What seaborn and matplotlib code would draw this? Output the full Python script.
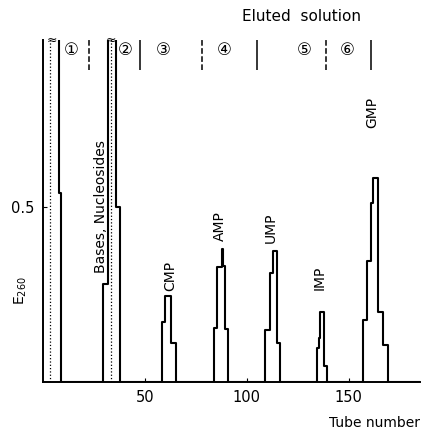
import matplotlib
matplotlib.use("Agg")
import matplotlib.pyplot as plt
import seaborn as sns

# Step histograms: left edges (tube number),
# E260 of each step, and the tube where the peak drops back to baseline.
# 1.5 stands for an off-scale value (clipped at the top of the axis).
P1_EDGES, P1_E260, P1_END = [0, 7.7], [1.5, 0.54], 9.0
BN_EDGES, BN_E260, BN_END = [29.5, 31.8, 36.0], [0.28, 1.5, 0.50], 37.8
CMP_EDGES, CMP_E260, CMP_END = [58.5, 60.1, 62.7], [0.17, 0.245, 0.11], 65.5
AMP_EDGES = [83.8, 85.4, 87.6, 88.4, 89.5]
AMP_E260, AMP_END = [0.153, 0.327, 0.38, 0.33, 0.15], 90.8
UMP_EDGES, UMP_E260, UMP_END = [108.8, 111.3, 112.9, 115.0], [0.147, 0.31, 0.375, 0.11], 116.2
IMP_EDGES, IMP_E260, IMP_END = [134.2, 135.2, 135.9, 137.7], [0.096, 0.125, 0.20, 0.045], 139.4
GMP_EDGES = [157.0, 158.7, 160.8, 161.9, 164.4, 166.8]
GMP_E260, GMP_END = [0.177, 0.344, 0.512, 0.582, 0.20, 0.106], 169.3
TUBE_MAX = 185

# inner (dotted) edges inside the off-scale peaks
INNER_EDGES = [3.4, 33.5]
BREAK_X = [4.5, 33.3]

PEAK_NAMES = ["Bases, Nucleosides", "CMP", "AMP", "UMP", "IMP", "GMP"]
PEAK_NAME_X = [28.3, 62.3, 86.8, 111.8, 135.8, 161.3]
PEAK_NAME_Y = [0.5, 0.303, 0.446, 0.44, 0.297, 0.77]

FRACTIONS = ["①", "②", "③", "④", "⑤", "⑥"]
FRACTION_X = [14, 40.2, 59, 89, 128, 149]
DIVIDER_X = [22.5, 47.5, 78, 105, 139, 161]
DIVIDER_STYLE = ["--", "-", "--", "-", "--", "-"]

X_TICKS = [50, 100, 150]
Y_TICKS = [0.5]

sns.set_style("ticks")
plt.rcParams["font.family"] = ["DejaVu Sans", "Noto Sans CJK JP"]
plt.rcParams["text.color"] = "black"
plt.rcParams["xtick.color"] = "black"
plt.rcParams["ytick.color"] = "black"

peaks = [
    (P1_EDGES, P1_E260, P1_END), (BN_EDGES, BN_E260, BN_END),
    (CMP_EDGES, CMP_E260, CMP_END), (AMP_EDGES, AMP_E260, AMP_END),
    (UMP_EDGES, UMP_E260, UMP_END), (IMP_EDGES, IMP_E260, IMP_END),
    (GMP_EDGES, GMP_E260, GMP_END),
]
xs, ys = [], []
for edges, vals, end in peaks:
    xs += list(edges) + [end]
    ys += list(vals) + [0]
xs.append(TUBE_MAX)
ys.append(0)

fig = plt.figure(figsize=(4.21, 4.32), dpi=100)
ax = fig.add_axes([0.102, 0.116, 0.896, 0.792])

sns.lineplot(x=xs, y=ys, drawstyle="steps-post", estimator=None, sort=False,
             color="black", lw=1.5, ax=ax)
ax.vlines(INNER_EDGES, 0, 1.5, colors="black", lw=0.9, linestyles=":")
for bx in BREAK_X:
    ax.text(bx, 0.975, "≈", ha="center", va="center", fontsize=9)

ax.set_xlim(0, TUBE_MAX)
ax.set_ylim(0, 0.977)
ax.set_xticks(X_TICKS)
ax.set_yticks(Y_TICKS)
ax.set_yticklabels(["0.5"])
ax.tick_params(direction="in", length=3, labelsize=10.5, pad=6,
               colors="black")
sns.despine(ax=ax)
for sp in ["left", "bottom"]:
    ax.spines[sp].set_linewidth(1.4)
    ax.spines[sp].set_color("black")

for name, px, py in zip(PEAK_NAMES, PEAK_NAME_X, PEAK_NAME_Y):
    ax.text(px, py, name, rotation=90, ha="center", va="center", fontsize=10)

# fraction markers along the top
for lab, fx in zip(FRACTIONS, FRACTION_X):
    ax.text(fx, 0.949, lab, ha="center", va="center", fontsize=12,
            clip_on=False)
for dx, ls in zip(DIVIDER_X, DIVIDER_STYLE):
    ax.vlines(dx, 0.89, 0.977, colors="black", lw=1.1, linestyles=ls)
ax.text(127, 1.043, "Eluted  solution", ha="center", va="center",
        fontsize=11, clip_on=False)

ax.text(-11, 0.26, "E$_{260}$", rotation=90, ha="center", va="center",
        fontsize=10, clip_on=False)
ax.text(1.0, -0.12, "Tube number", transform=ax.transAxes, ha="right",
        va="center", fontsize=10)
ax.set_xlabel("")
ax.set_ylabel("")

plt.savefig("out.png", dpi=100)
plt.close()
